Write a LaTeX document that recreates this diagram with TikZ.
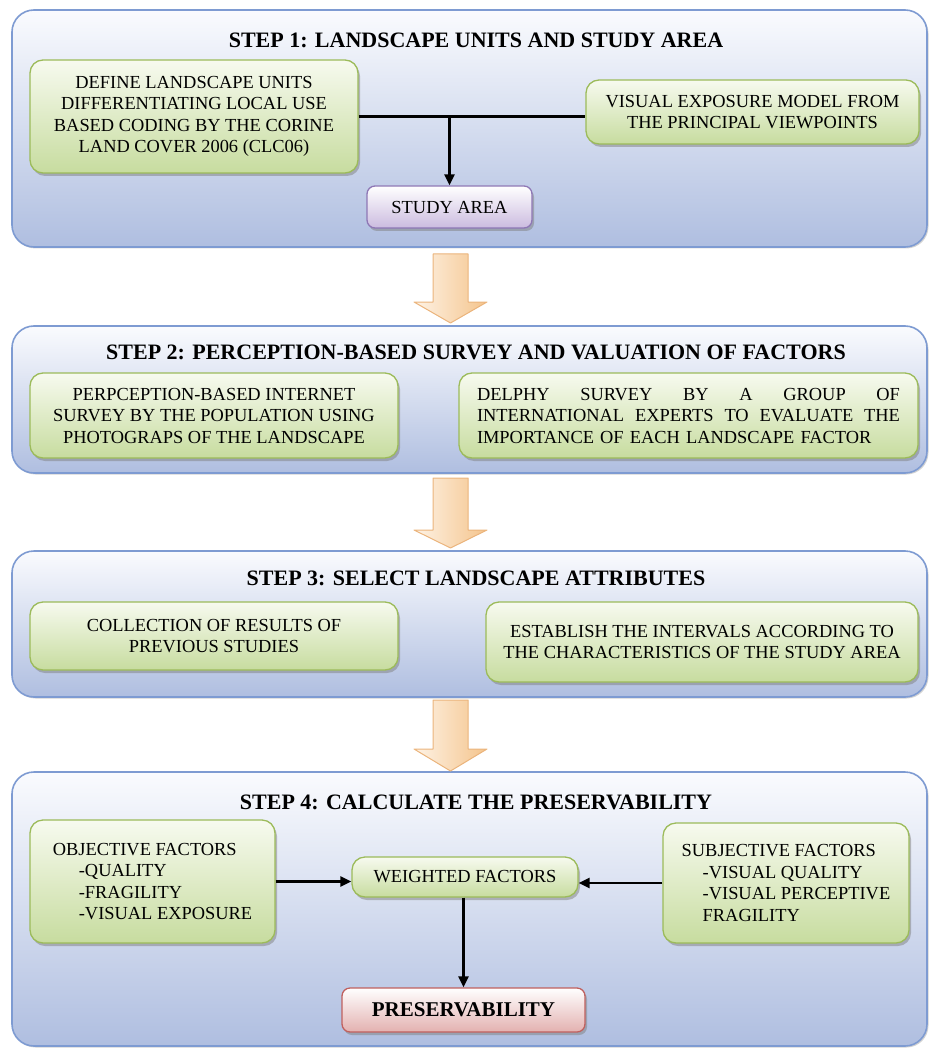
\documentclass[tikz,border=0pt]{standalone}
\usepackage{fontspec}
\setmainfont{Liberation Serif}
\usetikzlibrary{shadows,arrows.meta}

\definecolor{panelline}{HTML}{7E9BD2}
\definecolor{paneltop}{HTML}{FAFBFE}
\definecolor{panelbot}{HTML}{AFBEE0}
\definecolor{greenline}{HTML}{9CBB5A}
\definecolor{greentop}{HTML}{F7FAEF}
\definecolor{greenbot}{HTML}{C7DC9F}
\definecolor{purpleline}{HTML}{8E77B5}
\definecolor{purplebot}{HTML}{CBBBDF}
\definecolor{redline}{HTML}{C0605E}
\definecolor{redbot}{HTML}{E3B1B0}
\definecolor{arrowline}{HTML}{EBB47C}
\definecolor{arrowlight}{HTML}{FEF3E6}
\definecolor{arrowdark}{HTML}{F4C48C}

\tikzset{
   panel/.style = {draw = panelline, line width = 1.6pt, rounded corners = 22pt,
      top color = paneltop, bottom color = panelbot,
      drop shadow = {shadow xshift = 1.5pt, shadow yshift = -1.5pt, opacity = .35}},
   steptitle/.style = {font = \fontsize{22}{26}\selectfont\bfseries, inner sep = 0pt},
   greenbox/.style = {draw = greenline, line width = 1.3pt, rounded corners = 13pt,
      top color = greentop, bottom color = greenbot, align = center, inner sep = 0pt,
      drop shadow = {shadow xshift = 2pt, shadow yshift = -3pt, opacity = .5}},
   areabox/.style = {greenbox, draw = purpleline, top color = white, bottom color = purplebot,
      rounded corners = 8pt},
   resultbox/.style = {greenbox, draw = redline, top color = white, bottom color = redbot,
      rounded corners = 8pt, font = \fontsize{21}{25}\selectfont\bfseries},
   bigarrow/.style = {draw = arrowline, line width = 1pt, left color = arrowlight,
      right color = arrowdark, line join = round},
   link/.style = {line width = 2.6pt}
}

\begin{document}
\begin{tikzpicture}[x = 1pt, y = -1pt, >={Triangle[length = 11pt, width = 10pt]},
   font = \fontsize{18.4}{21.5}\selectfont]
\useasboundingbox (0,0) rectangle (929,1048);

% step panels
\foreach \ytop/\ybot in {10/247, 326/473, 551/697, 772/1046}
   \draw[panel] (12,\ytop) rectangle (927,\ybot);

% arrows between the panels
\foreach \ya/\yb/\yc in {254/302/323, 478/530/548, 700/749/771}
   \draw[bigarrow] (433,\ya) -- (468,\ya) -- (468,\yb) -- (487,\yb) -- (450.5,\yc)
      -- (414,\yb) -- (433,\yb) -- cycle;

% step 1
\node[steptitle] (title1) at (476,40) {STEP 1: LANDSCAPE UNITS AND STUDY AREA};
\node[greenbox, minimum width = 328pt, minimum height = 113pt] (units) at (194,116.5)
   {DEFINE LANDSCAPE UNITS\\ DIFFERENTIATING LOCAL USE\\ BASED CODING BY THE CORINE\\ LAND COVER 2006 (CLC06)};
\node[greenbox, minimum width = 333pt, minimum height = 64pt] (exposure) at (752.5,112)
   {VISUAL EXPOSURE MODEL FROM\\ THE PRINCIPAL VIEWPOINTS};
\node[areabox, minimum width = 165pt, minimum height = 42pt] (area) at (449.5,207) {STUDY AREA};
\draw[link] (units.east) -- (units.east -| exposure.west);
\draw[link, ->] (units.east -| area.north) -- (area.north);

% step 2
\node[steptitle] (title2) at (476,352) {STEP 2: PERCEPTION-BASED SURVEY AND VALUATION OF FACTORS};
\node[greenbox, minimum width = 368pt, minimum height = 85pt] (internet) at (214,415.5)
   {PERPCEPTION-BASED INTERNET\\ SURVEY BY THE POPULATION USING\\ PHOTOGRAPS OF THE LANDSCAPE};
\node[greenbox, align = left, text width = 423pt, inner xsep = 18pt, minimum height = 85pt] (delphy) at (688.5,415.5)
   {\makebox[423pt][l]{DELPHY\hfill SURVEY\hfill BY\hfill A\hfill GROUP\hfill OF}\\
    \makebox[423pt][l]{INTERNATIONAL\hfill EXPERTS\hfill TO\hfill EVALUATE\hfill THE}\\
    IMPORTANCE OF EACH LANDSCAPE FACTOR};

% step 3
\node[steptitle] (title3) at (476,578) {STEP 3: SELECT LANDSCAPE ATTRIBUTES};
\node[greenbox, minimum width = 368pt, minimum height = 68pt] (previous) at (214,636)
   {COLLECTION OF RESULTS OF\\ PREVIOUS STUDIES};
\node[greenbox, minimum width = 432pt, minimum height = 80pt] (intervals) at (702,642)
   {ESTABLISH THE INTERVALS ACCORDING TO\\ THE CHARACTERISTICS OF THE STUDY AREA};

% step 4
\node[steptitle] (title4) at (476,802) {STEP 4: CALCULATE THE PRESERVABILITY};
\node[greenbox, align = left, minimum width = 245pt, minimum height = 123pt] (objective) at (152.5,881.5)
   {OBJECTIVE FACTORS\\ \hspace*{26pt}-QUALITY\\ \hspace*{26pt}-FRAGILITY\\ \hspace*{26pt}-VISUAL EXPOSURE};
\node[greenbox, align = left, minimum width = 246pt, minimum height = 120pt] (subjective) at (786,883)
   {SUBJECTIVE FACTORS\\ \hspace*{21pt}-VISUAL QUALITY\\ \hspace*{21pt}-VISUAL PERCEPTIVE\\ \hspace*{21pt}FRAGILITY};
\node[greenbox, minimum width = 226pt, minimum height = 40pt] (weighted) at (465,877) {WEIGHTED FACTORS};
\node[resultbox, minimum width = 243pt, minimum height = 44pt] (preserv) at (463.5,1010) {PRESERVABILITY};
\draw[link, ->] (objective.east) -- (objective.east -| weighted.west);
\draw[link, ->] (subjective.west) -- (subjective.west -| weighted.east);
\draw[link, ->] (weighted.south -| preserv.north) -- (preserv.north);
\end{tikzpicture}
\end{document}
